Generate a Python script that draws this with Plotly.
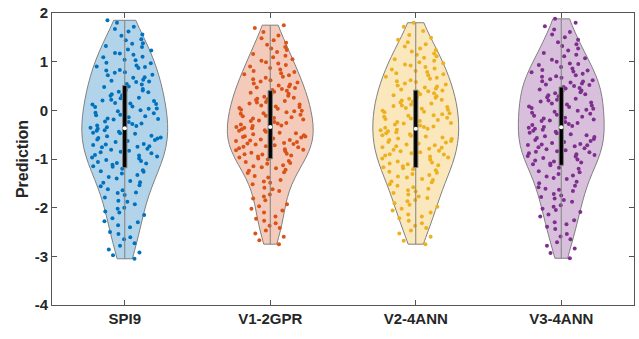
import numpy as np
import plotly.graph_objects as go

categories = ["SPI9", "V1-2GPR", "V2-4ANN", "V3-4ANN"]

spi9 = [
    1.85, 1.80, 1.72, 1.67,
    1.62, 1.56, 1.53, 1.46, 1.44, 1.38,
    1.37, 1.32, 1.30, 1.25, 1.23, 1.18, 1.17, 1.14,
    1.10, 1.09, 1.04, 1.03, 0.98, 0.97, 0.92, 0.90, 0.89,
    0.87, 0.83, 0.82, 0.78, 0.77, 0.73, 0.72, 0.68, 0.67, 0.63,
    0.61, 0.59, 0.58, 0.54, 0.53, 0.49, 0.48, 0.44, 0.42, 0.41, 0.38,
    0.37, 0.33, 0.31, 0.30, 0.26, 0.25, 0.22, 0.20, 0.19, 0.15, 0.14, 0.13,
    0.12, 0.08, 0.07, 0.04, 0.03, 0.00, -0.02, -0.05, -0.06, -0.09, -0.10, -0.12,
    -0.14, -0.17, -0.18, -0.19, -0.23, -0.24, -0.27, -0.28, -0.31, -0.32, -0.35, -0.36,
    -0.38, -0.41, -0.42, -0.44, -0.46, -0.47, -0.48, -0.52, -0.53, -0.56, -0.57, -0.58, -0.60, -0.61,
    -0.63, -0.65, -0.69, -0.70, -0.71, -0.74, -0.75, -0.76, -0.79, -0.81, -0.83, -0.85, -0.86,
    -0.88, -0.92, -0.93, -0.95, -0.97, -0.99, -1.01, -1.02, -1.04, -1.06, -1.08, -1.09, -1.12,
    -1.15, -1.16, -1.20, -1.23, -1.25, -1.26, -1.30, -1.33, -1.37,
    -1.40, -1.45, -1.48, -1.49, -1.54, -1.56, -1.62,
    -1.64, -1.69, -1.70, -1.74, -1.79, -1.86,
    -1.88, -1.93, -2.00, -2.02, -2.08, -2.10,
    -2.15, -2.22, -2.28, -2.30, -2.36,
    -2.40, -2.50, -2.54, -2.61,
    -2.65, -2.73, -2.78, -2.86,
    -2.92, -2.98, -3.05,
]

v1_2gpr = [
    1.75, 1.69, 1.61, 1.54,
    1.48, 1.44, 1.39, 1.35, 1.30, 1.27,
    1.24, 1.20, 1.16, 1.12, 1.09, 1.05, 1.02,
    0.99, 0.96, 0.93, 0.90, 0.87, 0.84, 0.81, 0.79, 0.76,
    0.74, 0.72, 0.69, 0.67, 0.64, 0.62, 0.59, 0.57, 0.55, 0.53, 0.51,
    0.49, 0.47, 0.46, 0.44, 0.42, 0.40, 0.38, 0.36, 0.34, 0.32, 0.30, 0.28, 0.26,
    0.24, 0.23, 0.21, 0.19, 0.17, 0.16, 0.14, 0.12, 0.10, 0.08, 0.07, 0.05, 0.03, 0.01,
    -0.01, -0.02, -0.04, -0.06, -0.07, -0.09, -0.11, -0.12, -0.14, -0.16, -0.17, -0.19, -0.21, -0.22, -0.24,
    -0.26, -0.27, -0.29, -0.31, -0.32, -0.34, -0.36, -0.37, -0.39, -0.41, -0.42, -0.44, -0.46, -0.47, -0.49,
    -0.51, -0.53, -0.54, -0.55, -0.56, -0.58, -0.60, -0.61, -0.62, -0.63, -0.65, -0.67, -0.68, -0.69, -0.70, -0.72, -0.74,
    -0.75, -0.76, -0.78, -0.80, -0.81, -0.82, -0.84, -0.85, -0.87, -0.89, -0.90, -0.91, -0.93, -0.95, -0.97, -0.99,
    -1.01, -1.04, -1.06, -1.08, -1.10, -1.13, -1.15, -1.17, -1.19, -1.22, -1.24,
    -1.27, -1.29, -1.35, -1.38, -1.43, -1.46, -1.49,
    -1.52, -1.59, -1.62, -1.66, -1.73,
    -1.77, -1.81, -1.85, -1.93, -1.97,
    -2.02, -2.06, -2.10, -2.18, -2.23,
    -2.27, -2.32, -2.37, -2.42, -2.47,
    -2.53, -2.60, -2.67, -2.75,
]

v2_4ann = [
    1.80, 1.72, 1.63, 1.55,
    1.49, 1.45, 1.40, 1.36, 1.31, 1.27,
    1.24, 1.21, 1.17, 1.14, 1.11, 1.08, 1.05, 1.02,
    0.99, 0.97, 0.94, 0.92, 0.89, 0.86, 0.84, 0.81, 0.79, 0.76,
    0.74, 0.72, 0.69, 0.67, 0.65, 0.62, 0.60, 0.58, 0.55, 0.53, 0.51,
    0.49, 0.47, 0.45, 0.43, 0.41, 0.39, 0.37, 0.35, 0.33, 0.31, 0.29, 0.28, 0.26,
    0.24, 0.22, 0.20, 0.18, 0.16, 0.14, 0.12, 0.10, 0.09, 0.07, 0.05, 0.03, 0.01,
    -0.01, -0.03, -0.04, -0.06, -0.08, -0.10, -0.11, -0.13, -0.15, -0.17, -0.18, -0.20, -0.22, -0.24,
    -0.26, -0.27, -0.29, -0.31, -0.33, -0.34, -0.36, -0.38, -0.40, -0.41, -0.43, -0.45, -0.47, -0.49,
    -0.51, -0.52, -0.54, -0.56, -0.58, -0.59, -0.61, -0.63, -0.65, -0.66, -0.68, -0.70, -0.72, -0.74,
    -0.76, -0.77, -0.79, -0.81, -0.83, -0.84, -0.86, -0.88, -0.90, -0.91, -0.93, -0.95, -0.97, -0.99,
    -1.01, -1.03, -1.05, -1.07, -1.09, -1.11, -1.13, -1.15, -1.17, -1.19, -1.21, -1.23,
    -1.26, -1.28, -1.31, -1.33, -1.36, -1.38, -1.41, -1.43, -1.46, -1.48,
    -1.52, -1.55, -1.58, -1.61, -1.64, -1.67, -1.70, -1.73,
    -1.77, -1.80, -1.84, -1.87, -1.91, -1.94, -1.98,
    -2.02, -2.06, -2.10, -2.14, -2.18, -2.22,
    -2.27, -2.32, -2.37, -2.42, -2.47,
    -2.53, -2.60, -2.68, -2.75,
]

v3_4ann = [
    1.88, 1.80, 1.73, 1.66,
    1.61, 1.56, 1.50, 1.45, 1.40,
    1.36, 1.32, 1.27, 1.23, 1.18, 1.14,
    1.11, 1.07, 1.04, 1.00, 0.96, 0.95, 0.93, 0.89,
    0.86, 0.83, 0.82, 0.80, 0.78, 0.75, 0.72, 0.70, 0.69, 0.67, 0.64,
    0.62, 0.60, 0.59, 0.57, 0.55, 0.53, 0.52, 0.50, 0.48, 0.46, 0.45, 0.43, 0.41, 0.39,
    0.37, 0.35, 0.33, 0.31, 0.29, 0.27, 0.24, 0.22, 0.20, 0.18, 0.16, 0.14,
    0.12, 0.10, 0.08, 0.07, 0.05, 0.03, 0.01, -0.01, -0.03, -0.05, -0.07, -0.09, -0.11,
    -0.13, -0.15, -0.17, -0.19, -0.21, -0.22, -0.24, -0.26, -0.28, -0.30, -0.32, -0.34, -0.36,
    -0.38, -0.40, -0.42, -0.44, -0.46, -0.47, -0.49, -0.51, -0.53, -0.55, -0.57, -0.59, -0.61,
    -0.63, -0.65, -0.67, -0.69, -0.70, -0.71, -0.72, -0.74, -0.76, -0.78, -0.80, -0.82, -0.84, -0.85, -0.86,
    -0.88, -0.90, -0.92, -0.94, -0.95, -0.96, -0.98, -1.01, -1.03, -1.05, -1.07, -1.09, -1.11,
    -1.13, -1.18, -1.20, -1.25, -1.27, -1.31, -1.34, -1.36,
    -1.39, -1.41, -1.47, -1.50, -1.55, -1.58, -1.61,
    -1.63, -1.66, -1.72, -1.75, -1.78, -1.81, -1.84,
    -1.88, -1.95, -1.98, -2.02, -2.05, -2.09,
    -2.14, -2.18, -2.26, -2.30, -2.34,
    -2.39, -2.44, -2.54, -2.59,
    -2.65, -2.71, -2.78, -2.84,
    -2.93, -3.04,
]

series = [spi9, v1_2gpr, v2_4ann, v3_4ann]
bandwidths = [0.5, 0.42, 0.42, 0.44]
point_colors = ["#0072BD", "#D95319", "#EDB120", "#7E2F8E"]
fill_colors = ["rgba(0,114,189,0.3)", "rgba(217,83,25,0.3)",
               "rgba(237,177,32,0.3)", "rgba(126,47,142,0.3)"]
y_tick_vals = [-4, -3, -2, -1, 0, 1, 2]
y_tick_text = ["-4", "-3", "-2", "-1", "0", "1", "2"]

fig = go.Figure()
for cat, vals, bw, pc, fc in zip(categories, series, bandwidths, point_colors, fill_colors):
    fig.add_trace(go.Violin(
        x=[cat] * len(vals), y=vals, bandwidth=bw,
        points="all", pointpos=0, jitter=0.85,
        marker=dict(color=pc, size=4),
        fillcolor=fc, line=dict(color="#808080", width=1),
        spanmode="hard", scalemode="width", width=0.59,
        box_visible=False, meanline_visible=False,
        showlegend=False, hoveron="points",
    ))
for cat, vals, bw in zip(categories, series, bandwidths):
    fig.add_trace(go.Violin(
        x=[cat] * len(vals), y=vals, bandwidth=bw,
        points=False,
        fillcolor="rgba(0,0,0,0)", line=dict(color="rgba(0,0,0,0)", width=0),
        spanmode="hard", scalemode="width", width=0.59,
        box=dict(visible=True, width=0.05, fillcolor="black",
                 line=dict(color="#808080", width=1)),
        meanline_visible=False, showlegend=False,
    ))
fig.add_trace(go.Scatter(
    x=categories, y=[float(np.median(v)) for v in series],
    mode="markers", marker=dict(color="white", size=4),
    showlegend=False, hoverinfo="skip",
))

axis_common = dict(
    showline=True, linecolor="#555555", linewidth=1, mirror="ticks",
    ticks="inside", ticklen=5, tickcolor="#555555", tickwidth=1,
    showgrid=False, zeroline=False,
    tickfont=dict(family="Liberation Sans, Arial", size=15, color="#262626", weight="bold"),
)

fig.update_layout(
    width=639, height=339,
    margin=dict(l=52, r=4, t=10, b=34),
    plot_bgcolor="white", paper_bgcolor="white",
    violinmode="overlay", violingap=0,
    xaxis=dict(type="category", range=[-0.5, 3.5], **axis_common),
    yaxis=dict(range=[-4, 2], tickvals=y_tick_vals, ticktext=y_tick_text,
               title=dict(text="Prediction", standoff=2,
                          font=dict(family="Liberation Sans, Arial", size=16,
                                    color="#262626", weight="bold")),
               **axis_common),
)

fig.write_html("out.html")
